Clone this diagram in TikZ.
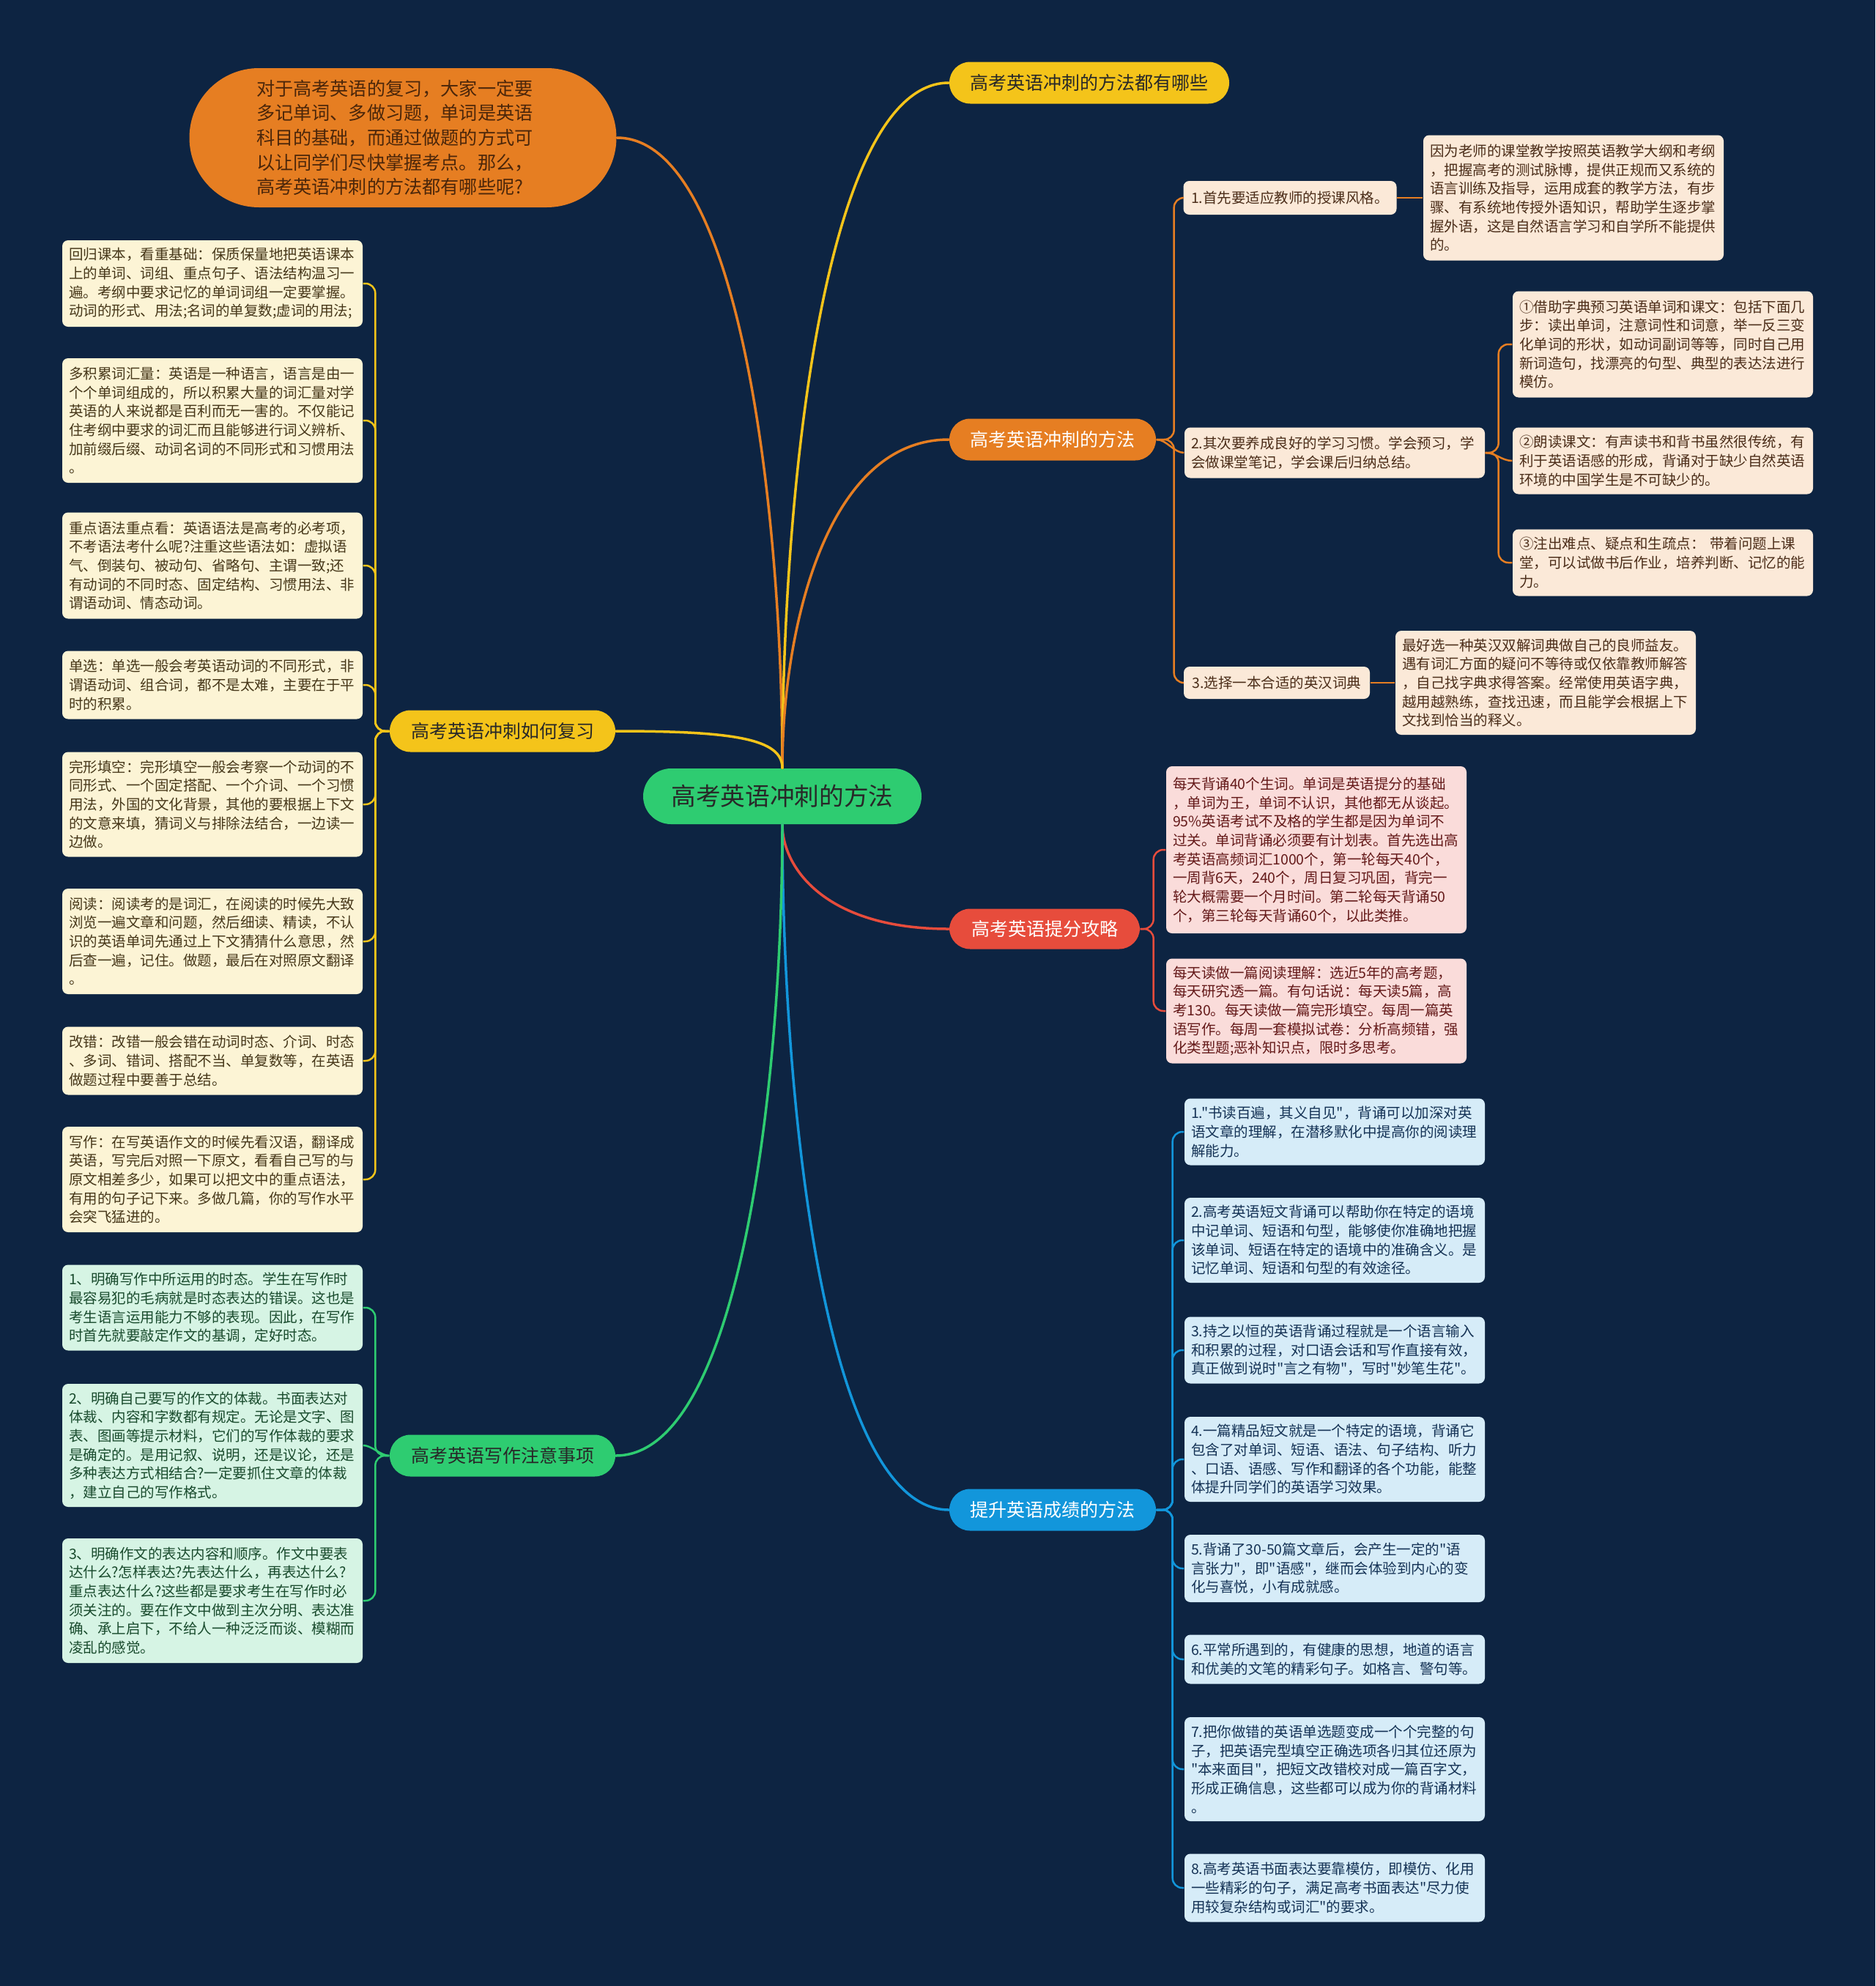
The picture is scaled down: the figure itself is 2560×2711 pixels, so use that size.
\documentclass[tikz,border=0pt]{standalone}
\usepackage{fontspec}
\setmainfont{Noto Sans CJK SC}[Ligatures=TeXOff]
\definecolor{bg}{RGB}{13,36,66}
\definecolor{cOrange}{RGB}{230,126,34}
\definecolor{cYellow}{RGB}{244,196,26}
\definecolor{cGreen}{RGB}{46,204,113}
\definecolor{cRed}{RGB}{231,76,60}
\definecolor{cBlue}{RGB}{18,150,219}
\definecolor{fCream}{RGB}{252,244,213}
\definecolor{fPeach}{RGB}{251,233,216}
\definecolor{fPink}{RGB}{250,220,218}
\definecolor{fSky}{RGB}{214,236,248}
\definecolor{fMint}{RGB}{214,244,228}
\definecolor{tCream}{RGB}{70,55,25}
\definecolor{tPeach}{RGB}{75,45,25}
\definecolor{tPink}{RGB}{100,25,25}
\definecolor{tSky}{RGB}{20,50,85}
\definecolor{tMint}{RGB}{25,75,45}
\definecolor{tDark}{RGB}{40,40,40}
\definecolor{tBubble}{RGB}{75,38,10}
\def\PX{0.3pt}
\begin{document}
\begin{tikzpicture}[x=0.3pt,y=-0.3pt,
  note/.style={rounded corners=2.4pt, align=left, text width=117.6pt, inner xsep=2.7pt, inner ysep=2.5pt, font=\fontsize{5.85pt}{7.7pt}\selectfont},
  cream/.style={note, fill=fCream, text=tCream},
  peach/.style={note, fill=fPeach, text=tPeach},
  pink/.style={note, fill=fPink, text=tPink},
  sky/.style={note, fill=fSky, text=tSky},
  mint/.style={note, fill=fMint, text=tMint},
  pill/.style={rounded corners=8.5pt, minimum height=57*\PX, inner xsep=0pt, inner ysep=0pt, font=\fontsize{7.5pt}{9pt}\selectfont},
  mainline/.style={line width=1.05pt, line cap=round},
  subline/.style={line width=0.75pt, rounded corners=4pt},
]
\fill[bg] (0,0) rectangle (2560,2711);
\useasboundingbox (0,0) rectangle (2560,2711);

% central and bubble
\node[fill=cGreen, rounded corners=11.4pt, minimum width=380*\PX, minimum height=76*\PX, inner sep=0pt, text=tDark, font=\fontsize{10.1pt}{12pt}\selectfont] (C) at (1068,1087) {高考英语冲刺的方法};
\node[fill=cOrange, rounded corners=28.5pt, minimum width=583*\PX, minimum height=190*\PX, inner sep=0pt, text width=400*\PX, align=left, text=tBubble, font=\fontsize{7.55pt}{10.1pt}\selectfont] (Q) at (550,188) {对于高考英语的复习，大家一定要\\多记单词、多做习题，单词是英语\\科目的基础，而通过做题的方式可\\以让同学们尽快掌握考点。那么，\\高考英语冲刺的方法都有哪些呢?};

% branches
\node[pill, fill=cYellow, text=tDark, minimum width=382*\PX] (T) at (1487,113) {高考英语冲刺的方法都有哪些};
\node[pill, fill=cOrange, text=white, minimum width=282*\PX] (O) at (1437,600) {高考英语冲刺的方法};
\node[pill, fill=cRed, text=white, minimum width=260*\PX, minimum height=55*\PX] (R) at (1426,1268) {高考英语提分攻略};
\node[pill, fill=cBlue, text=white, minimum width=282*\PX] (B) at (1437,2061) {提升英语成绩的方法};
\node[pill, fill=cYellow, text=tDark, minimum width=308*\PX] (LY) at (686,998) {高考英语冲刺如何复习};
\node[pill, fill=cGreen, text=tDark, minimum width=308*\PX] (LG) at (686,1987) {高考英语写作注意事项};

% left review notes
\node[cream, minimum height=118*\PX] (L1) at (290,387) {回归课本，看重基础：保质保量地把英语课本\\上的单词、词组、重点句子、语法结构温习一\\遍。考纲中要求记忆的单词词组一定要掌握。\\动词的形式、用法;名词的单复数;虚词的用法;};
\node[cream, minimum height=170*\PX] (L2) at (290,574) {多积累词汇量：英语是一种语言，语言是由一\\个个单词组成的，所以积累大量的词汇量对学\\英语的人来说都是百利而无一害的。不仅能记\\住考纲中要求的词汇而且能够进行词义辨析、\\加前缀后缀、动词名词的不同形式和习惯用法\\。};
\node[cream, minimum height=145*\PX] (L3) at (290,772) {重点语法重点看：英语语法是高考的必考项，\\不考语法考什么呢?注重这些语法如：虚拟语\\气、倒装句、被动句、省略句、主谓一致;还\\有动词的不同时态、固定结构、习惯用法、非\\谓语动词、情态动词。};
\node[cream, minimum height=93*\PX] (L4) at (290,935) {单选：单选一般会考英语动词的不同形式，非\\谓语动词、组合词，都不是太难，主要在于平\\时的积累。};
\node[cream, minimum height=143*\PX] (L5) at (290,1098) {完形填空：完形填空一般会考察一个动词的不\\同形式、一个固定搭配、一个介词、一个习惯\\用法，外国的文化背景，其他的要根据上下文\\的文意来填，猜词义与排除法结合，一边读一\\边做。};
\node[cream, minimum height=144*\PX] (L6) at (290,1285) {阅读：阅读考的是词汇，在阅读的时候先大致\\浏览一遍文章和问题，然后细读、精读，不认\\识的英语单词先通过上下文猜猜什么意思，然\\后查一遍，记住。做题，最后在对照原文翻译\\。};
\node[cream, minimum height=93*\PX] (L7) at (290,1448) {改错：改错一般会错在动词时态、介词、时态\\、多词、错词、搭配不当、单复数等，在英语\\做题过程中要善于总结。};
\node[cream, minimum height=144*\PX] (L8) at (290,1610) {写作：在写英语作文的时候先看汉语，翻译成\\英语，写完后对照一下原文，看看自己写的与\\原文相差多少，如果可以把文中的重点语法，\\有用的句子记下来。多做几篇，你的写作水平\\会突飞猛进的。};

% left writing notes
\node[mint, minimum height=117*\PX] (G1) at (290,1785) {1、明确写作中所运用的时态。学生在写作时\\最容易犯的毛病就是时态表达的错误。这也是\\考生语言运用能力不够的表现。因此，在写作\\时首先就要敲定作文的基调，定好时态。};
\node[mint, minimum height=168*\PX] (G2) at (290,1973) {2、明确自己要写的作文的体裁。书面表达对\\体裁、内容和字数都有规定。无论是文字、图\\表、图画等提示材料，它们的写作体裁的要求\\是确定的。是用记叙、说明，还是议论，还是\\多种表达方式相结合?一定要抓住文章的体裁\\，建立自己的写作格式。};
\node[mint, minimum height=170*\PX] (G3) at (290,2185) {3、明确作文的表达内容和顺序。作文中要表\\达什么?怎样表达?先表达什么，再表达什么?\\重点表达什么?这些都是要求考生在写作时必\\须关注的。要在作文中做到主次分明、表达准\\确、承上启下，不给人一种泛泛而谈、模糊而\\凌乱的感觉。};

% right orange
\node[fill=fPeach, text=tPeach, rounded corners=2.4pt, minimum width=291*\PX, minimum height=46*\PX, inner sep=0pt, font=\fontsize{5.85pt}{7.7pt}\selectfont] (n1) at (1761,270) {1.首先要适应教师的授课风格。};
\node[peach, minimum height=171*\PX] (d1) at (2148,270) {因为老师的课堂教学按照英语教学大纲和考纲\\，把握高考的测试脉博，提供正规而又系统的\\语言训练及指导，运用成套的教学方法，有步\\骤、有系统地传授外语知识，帮助学生逐步掌\\握外语，这是自然语言学习和自学所不能提供\\的。};
\node[peach, minimum height=69*\PX] (n2) at (1822,618) {2.其次要养成良好的学习习惯。学会预习，学\\会做课堂笔记，学会课后归纳总结。};
\node[peach, minimum height=145*\PX] (k1) at (2270,470) {①借助字典预习英语单词和课文：包括下面几\\步：读出单词，注意词性和词意，举一反三变\\化单词的形状，如动词副词等等，同时自己用\\新词造句，找漂亮的句型、典型的表达法进行\\模仿。};
\node[peach, minimum height=91*\PX] (k2) at (2270,629) {②朗读课文：有声读书和背书虽然很传统，有\\利于英语语感的形成，背诵对于缺少自然英语\\环境的中国学生是不可缺少的。};
\node[peach, minimum height=91*\PX] (k3) at (2270,768) {③注出难点、疑点和生疏点： 带着问题上课\\堂，可以试做书后作业，培养判断、记忆的能\\力。};
\node[fill=fPeach, text=tPeach, rounded corners=2.4pt, minimum width=254*\PX, minimum height=44*\PX, inner sep=0pt, font=\fontsize{5.85pt}{7.7pt}\selectfont] (n3) at (1743,932) {3.选择一本合适的英汉词典};
\node[peach, minimum height=142*\PX] (d3) at (2110,932) {最好选一种英汉双解词典做自己的良师益友。\\遇有词汇方面的疑问不等待或仅依靠教师解答\\，自己找字典求得答案。经常使用英语字典，\\越用越熟练，查找迅速，而且能学会根据上下\\文找到恰当的释义。};

% red
\node[pink, minimum height=228*\PX] (r1) at (1797,1160) {每天背诵40个生词。单词是英语提分的基础\\，单词为王，单词不认识，其他都无从谈起。\\95\%英语考试不及格的学生都是因为单词不\\过关。单词背诵必须要有计划表。首先选出高\\考英语高频词汇1000个，第一轮每天40个，\\一周背6天，240个，周日复习巩固，背完一\\轮大概需要一个月时间。第二轮每天背诵50\\个，第三轮每天背诵60个，以此类推。};
\node[pink, minimum height=143*\PX] (r2) at (1797,1380) {每天读做一篇阅读理解：选近5年的高考题，\\每天研究透一篇。有句话说：每天读5篇，高\\考130。每天读做一篇完形填空。每周一篇英\\语写作。每周一套模拟试卷：分析高频错，强\\化类型题;恶补知识点，限时多思考。};

% blue
\node[sky, minimum height=91*\PX] (b1) at (1822,1545) {1."书读百遍，其义自见"，背诵可以加深对英\\语文章的理解，在潜移默化中提高你的阅读理\\解能力。};
\node[sky, minimum height=116*\PX] (b2) at (1822,1693) {2.高考英语短文背诵可以帮助你在特定的语境\\中记单词、短语和句型，能够使你准确地把握\\该单词、短语在特定的语境中的准确含义。是\\记忆单词、短语和句型的有效途径。};
\node[sky, minimum height=91*\PX] (b3) at (1822,1843) {3.持之以恒的英语背诵过程就是一个语言输入\\和积累的过程，对口语会话和写作直接有效，\\真正做到说时"言之有物"，写时"妙笔生花"。};
\node[sky, minimum height=116*\PX] (b4) at (1822,1992) {4.一篇精品短文就是一个特定的语境，背诵它\\包含了对单词、短语、语法、句子结构、听力\\、口语、语感、写作和翻译的各个功能，能整\\体提升同学们的英语学习效果。};
\node[sky, minimum height=92*\PX] (b5) at (1822,2141) {5.背诵了30-50篇文章后，会产生一定的"语\\言张力"，即"语感"，继而会体验到内心的变\\化与喜悦，小有成就感。};
\node[sky, minimum height=67*\PX] (b6) at (1822,2265) {6.平常所遇到的，有健康的思想，地道的语言\\和优美的文笔的精彩句子。如格言、警句等。};
\node[sky, minimum height=142*\PX] (b7) at (1822,2415) {7.把你做错的英语单选题变成一个个完整的句\\子，把英语完型填空正确选项各归其位还原为\\"本来面目"，把短文改错校对成一篇百字文，\\形成正确信息，这些都可以成为你的背诵材料\\。};
\node[sky, minimum height=93*\PX] (b8) at (1822,2577) {8.高考英语书面表达要靠模仿，即模仿、化用\\一些精彩的句子，满足高考书面表达"尽力使\\用较复杂结构或词汇"的要求。};

% main connectors
\draw[mainline, cOrange] (C.north) .. controls +(0,-344) and +(169,0) .. (Q.east);
\draw[mainline, cYellow] (C.north) .. controls +(0,-374) and +(-171,0) .. (T.west);
\draw[mainline, cOrange] (C.north) .. controls +(0,-180) and +(-171,0) .. (O.west);
\draw[mainline, cYellow] (C.north) .. controls +(0,-40) and +(160,0) .. (LY.east);
\draw[mainline, cRed] (C.south) .. controls +(0,57) and +(-171,0) .. (R.west);
\draw[mainline, cBlue] (C.south) .. controls +(0,374) and +(-171,0) .. (B.west);
\draw[mainline, cGreen] (C.south) .. controls +(0,345) and +(171,0) .. (LG.east);

% sub connectors
\foreach \n in {L1,L2,L3,L4,L5,L6,L7,L8}
  \draw[subline, cYellow] (LY.west) -- ++(-19,0) |- (\n.east);
\foreach \n in {G1,G3}
  \draw[subline, cGreen] (LG.west) -- ++(-19,0) |- (\n.east);
\draw[subline, cGreen] (LG.west) .. controls +(-12,0) and +(12,0) .. (G2.east);
\foreach \n in {n1,n3}
  \draw[subline, cOrange] (O.east) -- ++(24,0) |- (\n.west);
\draw[subline, cOrange] (O.east) .. controls +(14,0) and +(-14,0) .. (n2.west);
\draw[subline, cOrange] (n1.east) -- (d1.west);
\draw[subline, cOrange] (n3.east) -- (d3.west);
\foreach \n in {k1,k3}
  \draw[subline, cOrange] (n2.east) -- ++(18,0) |- (\n.west);
\draw[subline, cOrange] (n2.east) .. controls +(14,0) and +(-14,0) .. (k2.west);
\foreach \n in {r1,r2}
  \draw[subline, cRed] (R.east) -- ++(18,0) |- (\n.west);
\foreach \n in {b1,b2,b3,b4,b5,b6,b7,b8}
  \draw[subline, cBlue] (B.east) -- ++(22,0) |- (\n.west);
\end{tikzpicture}
\end{document}
